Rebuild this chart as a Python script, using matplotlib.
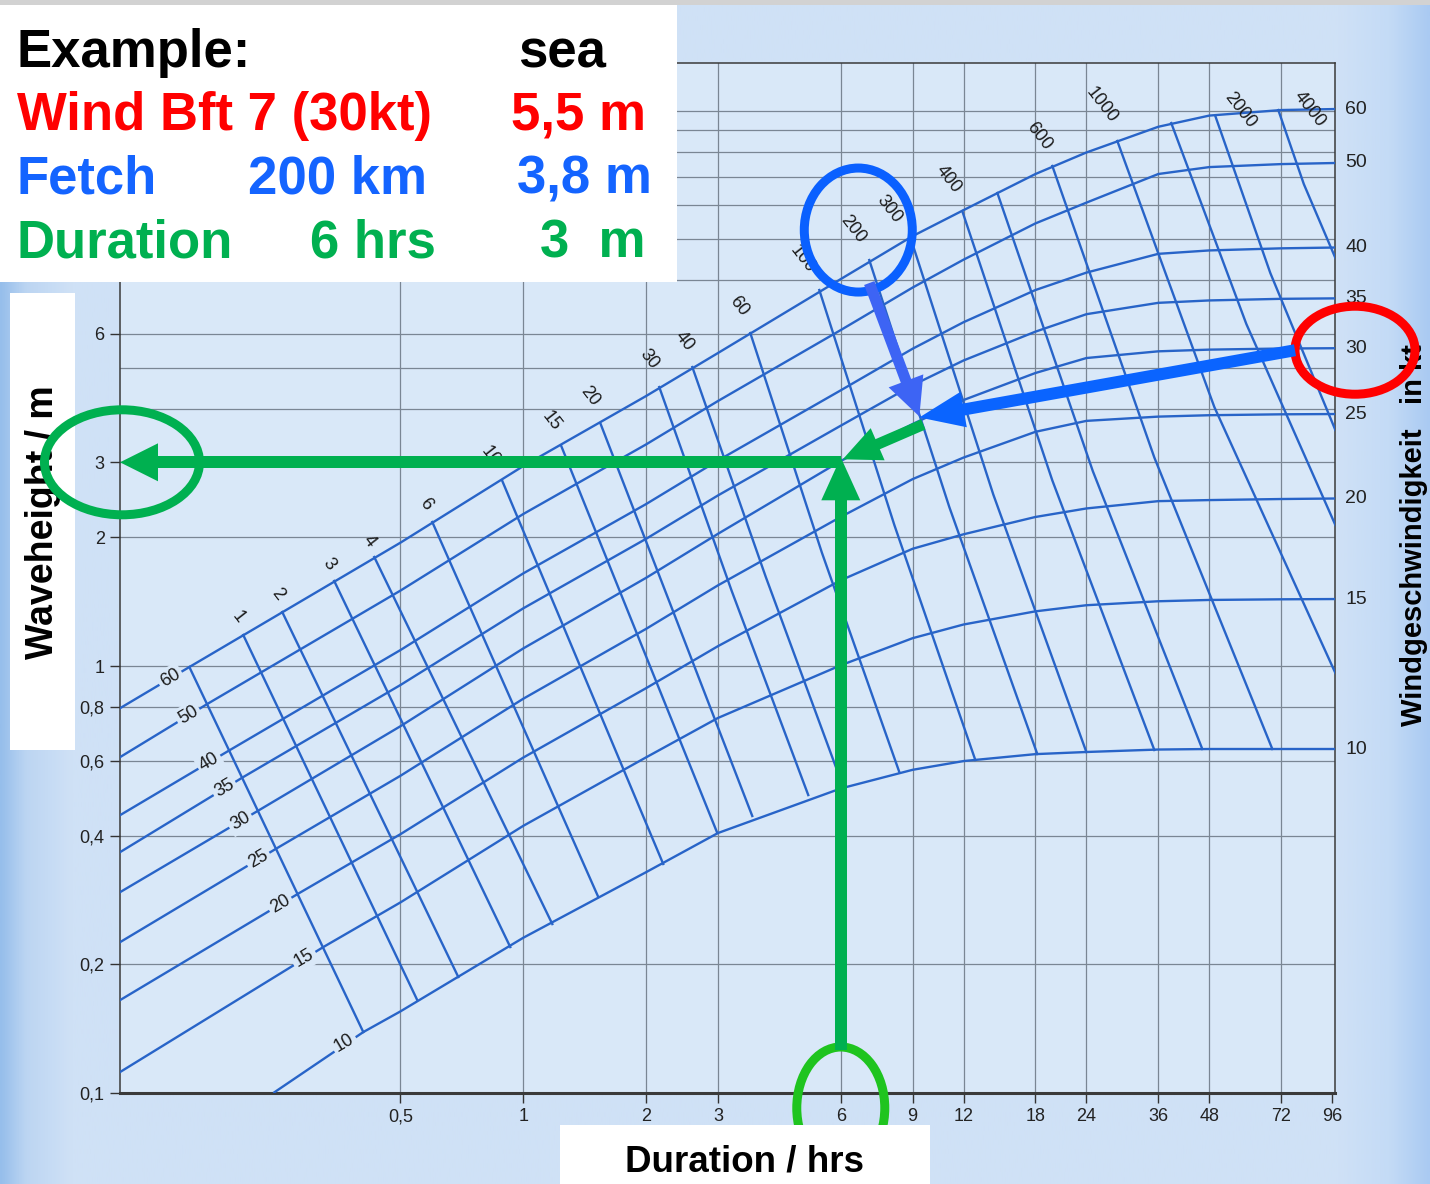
import numpy as np
import matplotlib
matplotlib.use("Agg")
import matplotlib.pyplot as plt
from matplotlib.patches import Ellipse, Rectangle, Polygon
from matplotlib.lines import Line2D
from matplotlib.transforms import IdentityTransform

plt.rcParams['font.family'] = ['Liberation Sans', 'DejaVu Sans']

# ---------------- data ----------------
# wind speed curves (kt): significant wave height (m) against duration (h)
wind_kt = [10, 15, 20, 25, 30, 35, 40, 50, 60]
wind_start_t = [0.244, 0.1, 0.1, 0.1, 0.1, 0.1, 0.1, 0.1, 0.1]
wind_start_h = [0.1, 0.1102, 0.1625, 0.2221, 0.2909, 0.3608, 0.4406, 0.6023, 0.7845]
wind_node_t = [0.4054, 0.3235, 0.2825, 0.2495, 0.2254, 0.2059, 0.1892, 0.168, 0.1519]
wind_node_h = [0.1389, 0.2197, 0.294, 0.3748, 0.46, 0.5495, 0.6324, 0.8147, 0.9946]
dur_read = [0.5, 1, 2, 3, 6, 9, 12, 18, 24, 36, 48, 72, 98]
h_10 = [0.1553, 0.231, 0.329, 0.4063, 0.5167, 0.5714, 0.599, 0.6218, 0.629, 0.6374, 0.6392, 0.6392, 0.6392]
h_15 = [0.2795, 0.4224, 0.6111, 0.7557, 1.004, 1.162, 1.251, 1.343, 1.388, 1.418, 1.428, 1.433, 1.435]
h_20 = [0.4038, 0.6104, 0.8875, 1.113, 1.588, 1.882, 2.035, 2.234, 2.339, 2.433, 2.447, 2.461, 2.468]
h_25 = [0.5533, 0.8383, 1.222, 1.545, 2.235, 2.740, 3.078, 3.536, 3.751, 3.838, 3.867, 3.886, 3.892]
h_30 = [0.7228, 1.0996, 1.609, 2.04, 3.021, 3.688, 4.198, 4.856, 5.264, 5.458, 5.508, 5.541, 5.55]
h_35 = [0.9026, 1.365, 1.986, 2.509, 3.655, 4.546, 5.196, 6.069, 6.668, 7.089, 7.181, 7.244, 7.262]
h_40 = [1.090, 1.648, 2.395, 3.029, 4.423, 5.535, 6.387, 7.596, 8.344, 9.233, 9.404, 9.511, 9.553]
h_50 = [1.502, 2.270, 3.304, 4.175, 6.122, 7.698, 8.949, 10.88, 12.17, 14.20, 14.74, 14.98, 15.07]
h_60 = [1.945, 2.940, 4.289, 5.408, 8.059, 10.16, 11.69, 14.20, 15.95, 18.32, 19.46, 20.05, 20.16]
wind_h = [h_10, h_15, h_20, h_25, h_30, h_35, h_40, h_50, h_60]

# fetch lines (km): top node on the 60 kt curve, a middle point, end point
fetch_label = ['', '1', '2', '3', '4', '6', '10', '15', '20', '30', '40', '60',
               '100', '200', '300', '400', '', '600', '1000', '', '2000', '4000']
fetch_top_t = [0.1519, 0.2059, 0.2566, 0.3440, 0.4313, 0.5984, 0.8882, 1.239, 1.544, 2.154, 2.596,
               3.601, 5.316, 7.047, 8.882, 11.91, 14.52, 19.80, 28.57, 38.74, 49.67, 70.88]
fetch_top_h = [0.9946, 1.182, 1.338, 1.582, 1.800, 2.174, 2.713, 3.275, 3.708, 4.501, 5.014,
               6.024, 7.596, 8.929, 10.11, 11.63, 12.82, 14.83, 16.97, 18.69, 19.42, 20.05]
nan = np.nan
fetch_mid_t = [nan] * 9 + [3.243, 3.930, 5.392, 8.118, 11.07, 14.19, 19.80, 24.88, 35.21,
                           49.39, 59.18, 67.75, 81.85]
fetch_mid_h = [nan] * 9 + [1.498, 1.616, 1.844, 2.139, 2.357, 2.521, 2.720, 2.861, 3.078,
                           4.043, 6.324, 8.326, 13.45]
fetch_end_t = [0.4054, 0.5496, 0.6930, 0.9292, 1.178, 1.527, 2.203, 2.989, 3.641, 4.994, 6.085,
               8.348, 12.82, 18.19, 23.99, 35.21, 46.15, 68.52, 97.8, 97.8, 97.8, 97.8]
fetch_end_h = [0.1389, 0.1651, 0.1869, 0.2197, 0.2487, 0.2877, 0.3438, 0.4063, 0.4454, 0.4986, 0.5207,
               0.5646, 0.6023, 0.6221, 0.629, 0.6358, 0.6392, 0.6392, 0.963, 2.139, 3.570, 9.03]

# axis ticks
x_ticks = [0.5, 1, 2, 3, 6, 9, 12, 18, 24, 36, 48, 72, 96]
x_ticklabels = ['0,5', '1', '2', '3', '6', '9', '12', '18', '24', '36', '48', '72', '96']
y_ticks = [0.1, 0.2, 0.4, 0.6, 0.8, 1, 2, 3, 6]
y_ticklabels = ['0,1', '0,2', '0,4', '0,6', '0,8', '1', '2', '3', '6']
h_gridlines = [0.2, 0.4, 0.6, 0.8, 1, 2, 3, 4, 5, 6, 8, 10, 12, 14, 16, 18, 20]

# worked example
ex_duration = 6
ex_height = 3
ex_fetch_t = 9.4
ex_fetch_h = 3.8

# ---------------- styling ----------------
W, H = 1430, 1184
BLUE = '#2864c8'
PAGE = '#cfe1f5'
INNER = '#d9e8f8'
GRID = '#7a8694'

fig = plt.figure(figsize=(W / 100, H / 100), dpi=100)
fig.patch.set_facecolor(PAGE)

# page background with darker edges
bg = fig.add_axes([0, 0, 1, 1], zorder=-10)
xs = np.array([0, 25, 70, 1340, 1390, 1430]) / W
cols = np.array([[150, 190, 235], [188, 213, 242], [207, 225, 246],
                 [207, 225, 246], [196, 219, 246], [170, 202, 242]]) / 255
gx = np.linspace(0, 1, 600)
grad = np.stack([np.interp(gx, xs, cols[:, k]) for k in range(3)], axis=-1)[None, :, :]
bg.imshow(grad, extent=[0, 1, 0, 1], aspect='auto')
bg.set_xlim(0, 1)
bg.set_ylim(0, 1)
bg.axis('off')

ax = fig.add_axes([120 / W, 91 / H, 1215 / W, 1030 / H])
ax.set_xscale('log')
ax.set_yscale('log')
ax.set_xlim(0.1027, 97.6)
ax.set_ylim(0.1, 25.84)
ax.set_facecolor(INNER)

for t in x_ticks[:-1]:
    ax.axvline(t, color=GRID, lw=0.9, zorder=1)
for h in h_gridlines:
    ax.axhline(h, color=GRID, lw=0.9, zorder=1)

ax.set_xticks(x_ticks)
ax.set_xticklabels(x_ticklabels)
ax.set_yticks(y_ticks)
ax.set_yticklabels(y_ticklabels)
ax.minorticks_off()
ax.tick_params(direction='out', length=7, width=1, color='#333333',
               labelsize=13, labelcolor='#222222', pad=4)
for s in ['left', 'right', 'top']:
    ax.spines[s].set_color('#3a3a3a')
    ax.spines[s].set_linewidth(1.1)
ax.spines['bottom'].set_color('#3a3a3a')
ax.spines['bottom'].set_linewidth(2.2)

# wind curves
for i, kt in enumerate(wind_kt):
    ts = [wind_start_t[i], wind_node_t[i]] + dur_read
    hs = [wind_start_h[i], wind_node_h[i]] + wind_h[i]
    ax.plot(ts, hs, color=BLUE, lw=1.7, zorder=3, solid_capstyle='butt')
    ax.annotate(str(kt), xy=(wind_node_t[i], wind_node_h[i]), xytext=(-19, -11),
                textcoords='offset pixels', rotation=30.7, ha='center', va='center',
                rotation_mode='anchor', fontsize=13, color='#1a1a1a', zorder=5,
                bbox=dict(boxstyle='square,pad=0.15', fc=INNER, ec='none'))
    # right hand scale at the fully developed height
    ax.text(1.0 + 10 / 1215, hs[-1], str(kt), transform=ax.get_yaxis_transform(),
            ha='left', va='center', fontsize=14, color='#222222')

# fetch lines
lab_off = [None, (-5, 18), (-5, 18), (-5, 17), (-5, 16), (-7, 18), (-12, 25), (-10, 25),
           (-10, 27), (-10, 28), (-8, 26), (-11, 27), (-17, 31), (-16, 31), (-21, 28),
           (-14, 32), None, (-13, 30), (-16, 36), None, (25, 6), (31, 1)]
for j in range(len(fetch_label)):
    ts = [fetch_top_t[j], fetch_mid_t[j], fetch_end_t[j]]
    hs = [fetch_top_h[j], fetch_mid_h[j], fetch_end_h[j]]
    if np.isnan(ts[1]):
        ts, hs = [ts[0], ts[2]], [hs[0], hs[2]]
    ax.plot(ts, hs, color=BLUE, lw=1.7, zorder=3)
    if fetch_label[j]:
        ax.annotate(fetch_label[j], xy=(fetch_top_t[j], fetch_top_h[j]),
                    xytext=lab_off[j], textcoords='offset pixels', rotation=-52,
                    rotation_mode='anchor', ha='center', va='center',
                    fontsize=13, color='#1a1a1a', zorder=5)


# ---------------- overlay: example annotation ----------------
def to_px(t, h):
    return ax.transData.transform((t, h))


def arrow(p0, p1, color, width, head_w, head_len, z=20):
    p0, p1 = np.asarray(p0, float), np.asarray(p1, float)
    d = p1 - p0
    u = d / np.hypot(*d)
    n = np.array([-u[1], u[0]])
    base = p1 - u * head_len
    fig.add_artist(Line2D([p0[0], base[0] + u[0] * 2], [p0[1], base[1] + u[1] * 2],
                          transform=IdentityTransform(), color=color,
                          lw=width * 0.72, solid_capstyle='butt', zorder=z))
    fig.add_artist(Polygon([p1, base + n * head_w / 2, base - n * head_w / 2], closed=True,
                           transform=IdentityTransform(), fc=color, ec='none', zorder=z))


def ring(c, w, h, color, lw_px=9, z=20):
    fig.add_artist(Ellipse(c, w, h, transform=IdentityTransform(), fc='none',
                           ec=color, lw=lw_px * 0.72, zorder=z))


ax_l, ax_b = to_px(0.1027, 0.1)
ax_r, ax_t = to_px(97.6, 25.84)
node = to_px(ex_fetch_t, ex_fetch_h)
gnode = to_px(ex_duration, ex_height)
red_c = np.array([ax_r + 20, to_px(1, h_30[-1])[1] - 2])
j200 = fetch_label.index('200')
blue_c = to_px(fetch_top_t[j200], fetch_top_h[j200]) + np.array(lab_off[j200]) + np.array([5, -1])
gleft_c = np.array([ax_l + 2, gnode[1]])
gbot_c = np.array([gnode[0], ax_b - 15])

ring(red_c, 120, 88, '#ff0000')
ring(blue_c, 108, 124, '#0a60ff')
ring(gleft_c, 155, 105, '#00b050')
ring(gbot_c, 88, 122, '#1fc41f')

arrow(red_c + np.array([-60, 0]), node + np.array([-1, 1]), '#0a64ff', 12, 36, 45)
arrow(blue_c + np.array([11, -53]), node + np.array([-1, 2]), '#3d64f4', 11, 37, 38)
arrow(node + np.array([3, -6]), gnode + np.array([2, 3]), '#00b050', 11, 35, 38)
arrow(gnode, np.array([ax_l, gnode[1]]), '#00b050', 12, 38, 38)
arrow(np.array([gnode[0], H - 1050]), gnode + np.array([0, 5]), '#00b050', 12, 39, 43)

# ---------------- white label boxes ----------------
fig.add_artist(Rectangle((0, H - 5), W, 5, transform=IdentityTransform(),
                         fc='#d2d2d2', ec='none', zorder=29))
fig.add_artist(Rectangle((0, H - 282), 677, 277, transform=IdentityTransform(),
                         fc='white', ec='none', zorder=30))
fig.add_artist(Rectangle((10, H - 750), 65, 457, transform=IdentityTransform(),
                         fc='white', ec='none', zorder=15))
fig.add_artist(Rectangle((560, 0), 370, H - 1125, transform=IdentityTransform(),
                         fc='white', ec='none', zorder=30))

rows = [
    (67, [(17, 'Example:', 'black'), (518, 'sea', 'black')]),
    (130, [(17, 'Wind Bft 7 (30kt)', '#ff0000'), (511, '5,5 m', '#ff0000')]),
    (193, [(17, 'Fetch', '#1464ff'), (248, '200 km', '#1464ff'), (517, '3,8 m', '#1464ff')]),
    (257, [(17, 'Duration', '#00b050'), (310, '6 hrs', '#00b050'), (540, '3  m', '#00b050')]),
]
for yb, items in rows:
    for xl, s, c in items:
        fig.text(xl / W, (H - yb) / H, s, ha='left', va='baseline', fontsize=38,
                 fontweight='bold', color=c, zorder=31)

fig.text(745 / W, (H - 1172) / H, 'Duration / hrs', ha='center', va='baseline',
         fontsize=26.5, fontweight='bold', color='black', zorder=31)
fig.text(43 / W, (H - 522) / H, 'Waveheight / m', ha='center', va='center', rotation=90,
         fontsize=27, fontweight='bold', color='black', zorder=16)
fig.text(1414 / W, (H - 535) / H, 'Windgeschwindigkeit   in kt', ha='center', va='center',
         rotation=90, fontsize=21, fontweight='bold', color='black', zorder=16)

fig.savefig('out.png', dpi=100, facecolor=fig.get_facecolor())
